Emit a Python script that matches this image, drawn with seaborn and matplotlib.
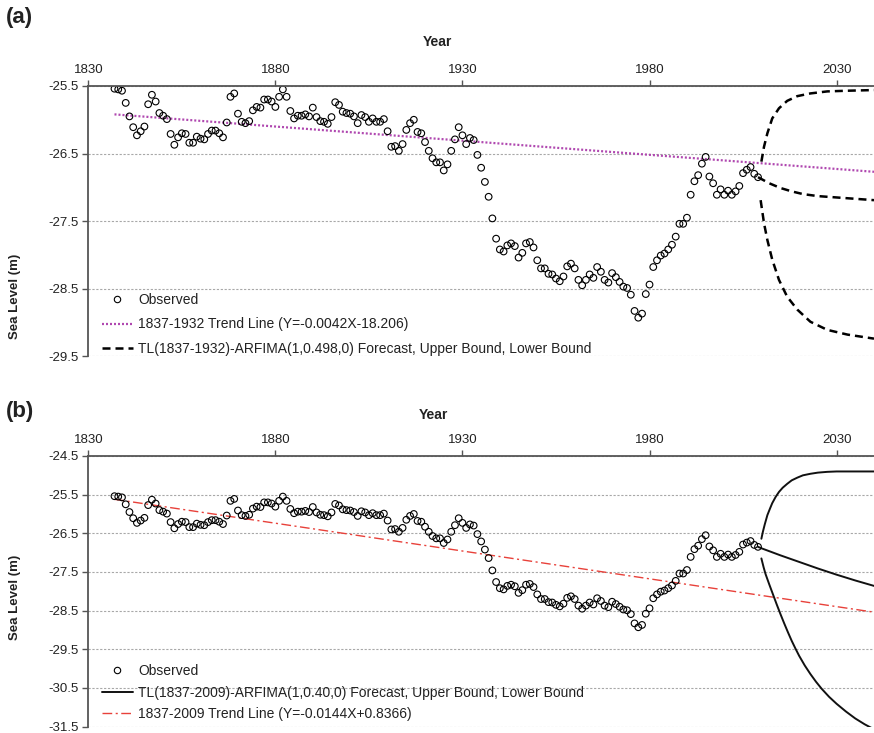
import numpy as np
import pandas as pd
import matplotlib
matplotlib.use("Agg")
import matplotlib.pyplot as plt
from matplotlib.lines import Line2D
import seaborn as sns

# ---------------- data ----------------
years = list(range(1837, 2010))
observed = [
    -25.54, -25.55, -25.57, -25.75, -25.95, -26.11, -26.23, -26.17, -26.10, -25.77,  # 1837-1846
    -25.63, -25.73, -25.90, -25.94, -25.99, -26.21, -26.37, -26.26, -26.20, -26.21,  # 1847-1856
    -26.34, -26.34, -26.25, -26.28, -26.29, -26.21, -26.16, -26.16, -26.20, -26.26,  # 1857-1866
    -26.04, -25.66, -25.61, -25.91, -26.03, -26.05, -26.02, -25.86, -25.81, -25.82,  # 1867-1876
    -25.70, -25.70, -25.73, -25.81, -25.66, -25.55, -25.66, -25.87, -25.98, -25.94,  # 1877-1886
    -25.94, -25.92, -25.95, -25.82, -25.96, -26.02, -26.03, -26.06, -25.96, -25.74,  # 1887-1896
    -25.78, -25.88, -25.90, -25.91, -25.95, -26.05, -25.93, -25.96, -26.03, -25.98,  # 1897-1906
    -26.03, -26.03, -25.99, -26.17, -26.40, -26.39, -26.46, -26.36, -26.15, -26.05,  # 1907-1916
    -26.00, -26.18, -26.20, -26.33, -26.46, -26.57, -26.63, -26.63, -26.75, -26.66,  # 1917-1926
    -26.46, -26.29, -26.11, -26.23, -26.36, -26.27, -26.30, -26.52, -26.71, -26.92,  # 1927-1936
    -27.14, -27.46, -27.76, -27.92, -27.95, -27.86, -27.83, -27.87, -28.04, -27.97,  # 1937-1946
    -27.83, -27.81, -27.89, -28.08, -28.20, -28.20, -28.28, -28.29, -28.35, -28.39,  # 1947-1956
    -28.32, -28.17, -28.13, -28.20, -28.37, -28.45, -28.37, -28.29, -28.34, -28.18,  # 1957-1966
    -28.25, -28.37, -28.41, -28.27, -28.33, -28.40, -28.47, -28.49, -28.59, -28.83,  # 1967-1976
    -28.93, -28.87, -28.58, -28.44, -28.18, -28.08, -28.01, -27.98, -27.92, -27.85,  # 1977-1986
    -27.73, -27.54, -27.54, -27.45, -27.11, -26.91, -26.82, -26.65, -26.55, -26.84,  # 1987-1996
    -26.94, -27.11, -27.03, -27.11, -27.05, -27.11, -27.06, -26.98, -26.79, -26.74,  # 1997-2006
    -26.70, -26.80, -26.85,                                                          # 2007-2009
]

# panel (a): 1837-1932 trend line and TL-ARFIMA(1,0.498,0) forecast
trend_a_years = [1837, 2040]
trend_a_vals = [-25.92, -26.77]
fc_a_years = [2009, 2010, 2012, 2015, 2018, 2021, 2025, 2030, 2035, 2040]
fc_a_vals = [-26.85, -26.88, -26.94, -27.01, -27.06, -27.10, -27.13, -27.15, -27.17, -27.19]
up_a_years = [2009.9, 2010.6, 2011.5, 2012.8, 2014.6, 2016.8, 2019.5, 2023.0, 2027.5, 2032.9, 2040.0]
up_a_vals = [-26.62, -26.40, -26.20, -25.98, -25.83, -25.72, -25.65, -25.61, -25.58, -25.57, -25.56]
lo_a_years = [2009.7, 2010.6, 2011.5, 2012.8, 2014.6, 2016.8, 2019.5, 2023.0, 2027.5, 2032.9, 2040.0]
lo_a_vals = [-27.19, -27.53, -27.78, -28.07, -28.37, -28.62, -28.81, -28.99, -29.11, -29.18, -29.24]

# panel (b): 1837-2009 trend line and TL-ARFIMA(1,0.40,0) forecast
trend_b_years = [1837, 2040]
trend_b_vals = [-25.62, -28.54]
fc_b_years = [2009, 2010, 2015, 2020, 2025, 2030, 2035, 2040]
fc_b_vals = [-26.85, -26.89, -27.07, -27.24, -27.41, -27.57, -27.72, -27.86]
up_b_years = [2009.9, 2010.3, 2010.8, 2011.5, 2012.2, 2012.8, 2013.7, 2014.6, 2015.6,
              2016.8, 2018.0, 2019.5, 2021.0, 2023.0, 2025.0, 2027.5, 2030.0, 2032.9, 2036.0, 2040.0]
up_b_vals = [-26.64, -26.46, -26.27, -26.03, -25.86, -25.72, -25.56, -25.43, -25.32,
             -25.22, -25.13, -25.06, -25.00, -24.96, -24.93, -24.91, -24.90, -24.90, -24.90, -24.90]
lo_b_years = [2009.9, 2010.5, 2011.0, 2012.0, 2013.0, 2014.0, 2015.0, 2016.0, 2017.0, 2018.0,
              2019.0, 2020.0, 2021.5, 2023.0, 2024.5, 2026.0, 2028.0, 2030.0, 2032.5, 2035.0,
              2037.5, 2040.0]
lo_b_vals = [-27.15, -27.38, -27.55, -27.82, -28.08, -28.34, -28.59, -28.83, -29.06, -29.28,
             -29.48, -29.67, -29.92, -30.14, -30.34, -30.52, -30.73, -30.91, -31.11, -31.29,
             -31.44, -31.57]

x_ticks = [1830, 1880, 1930, 1980, 2030]
y_ticks_a = [-25.5, -26.5, -27.5, -28.5, -29.5]
y_ticks_b = [-24.5, -25.5, -26.5, -27.5, -28.5, -29.5, -30.5, -31.5]

label_obs = "Observed"
label_trend_a = "1837-1932 Trend Line (Y=-0.0042X-18.206)"
label_fc_a = "TL(1837-1932)-ARFIMA(1,0.498,0) Forecast, Upper Bound, Lower Bound"
label_fc_b = "TL(1837-2009)-ARFIMA(1,0.40,0) Forecast, Upper Bound, Lower Bound"
label_trend_b = "1837-2009 Trend Line (Y=-0.0144X+0.8366)"

# ---------------- style ----------------
sns.set_theme(style="white")
plt.rcParams["font.family"] = ["Liberation Sans", "DejaVu Sans"]
plt.rcParams["axes.unicode_minus"] = False

W, H = 874, 733
fig = plt.figure(figsize=(W / 100, H / 100), dpi=100)

x0 = 88.3
ax_a = fig.add_axes([x0 / W, 1 - 356.2 / H, (W - x0) / W, 270.2 / H])
ax_b = fig.add_axes([x0 / W, 1 - 726.6 / H, (W - x0) / W, 270.6 / H])

SPINE = "#555555"
TXT = "#222222"
PURPLE = "#b048b0"
RED = "#e8413a"
DOT = (0, (0.9, 0.9))
DASH = (0, (3.2, 2.0))
DASHDOT = (0, (7, 2.5, 1.5, 2.5))

obs_df = pd.DataFrame({"year": years, "level": observed})


def style_axes(ax, yticks):
    ax.set_xlim(1830, 2040)
    ax.set_ylim(yticks[-1], yticks[0])
    ax.xaxis.tick_top()
    ax.set_xticks(x_ticks)
    ax.set_yticks(yticks)
    ax.set_yticklabels([f"{v:.1f}" for v in yticks])
    for s in ["right", "bottom"]:
        ax.spines[s].set_visible(False)
    for s in ["top", "left"]:
        ax.spines[s].set_color(SPINE)
        ax.spines[s].set_linewidth(1.3)
        ax.spines[s].set_zorder(5)
    ax.tick_params(axis="both", direction="out", length=4, width=1.0, color=SPINE,
                   labelsize=9.5, labelcolor=TXT, pad=3)
    ax.tick_params(axis="x", top=True, bottom=False, labeltop=True, labelbottom=False)
    ax.tick_params(axis="y", left=True)
    ax.yaxis.grid(True, linestyle=(0, (2, 1.5)), color="#a8a8a8", linewidth=0.8)
    ax.xaxis.grid(False)
    ax.set_axisbelow(True)
    ax.set_xlabel("")
    ax.set_ylabel("")


def draw_observed(ax):
    sns.scatterplot(data=obs_df, x="year", y="level", ax=ax, marker="o", s=23,
                    facecolors="none", edgecolor="black", linewidth=0.8, zorder=4,
                    legend=False)


def line(ax, xs, ys, **kw):
    sns.lineplot(x=xs, y=ys, ax=ax, sort=False, estimator=None, legend=False, **kw)


# ---------------- panel (a) ----------------
draw_observed(ax_a)
line(ax_a, trend_a_years, trend_a_vals, color=PURPLE, linewidth=1.6, linestyle=DOT,
     dash_capstyle="butt", zorder=3)
for xs, ys in [(fc_a_years, fc_a_vals), (up_a_years, up_a_vals), (lo_a_years, lo_a_vals)]:
    line(ax_a, xs, ys, color="black", linewidth=1.8, linestyle=DASH, zorder=3)
style_axes(ax_a, y_ticks_a)

h_obs = Line2D([], [], marker="o", linestyle="none", markerfacecolor="none",
               markeredgecolor="black", markersize=4.6, markeredgewidth=0.8)
h_trend_a = Line2D([], [], color=PURPLE, linewidth=1.6, linestyle=DOT, dash_capstyle="butt")
h_fc_a = Line2D([], [], color="black", linewidth=1.8, linestyle=DASH)
ax_a.legend([h_obs, h_trend_a, h_fc_a], [label_obs, label_trend_a, label_fc_a],
            loc="lower left", bbox_to_anchor=(0.0174, 0.0), frameon=False,
            fontsize=10, labelcolor=TXT, handlelength=2.2, handletextpad=0.4,
            labelspacing=0.78, borderpad=0.0, borderaxespad=0.0)

# ---------------- panel (b) ----------------
draw_observed(ax_b)
line(ax_b, trend_b_years, trend_b_vals, color=RED, linewidth=1.0, linestyle=DASHDOT, zorder=3)
for xs, ys in [(fc_b_years, fc_b_vals), (up_b_years, up_b_vals), (lo_b_years, lo_b_vals)]:
    line(ax_b, xs, ys, color="#111111", linewidth=1.4, linestyle="-", zorder=3)
style_axes(ax_b, y_ticks_b)

h_fc_b = Line2D([], [], color="#111111", linewidth=1.4, linestyle="-")
h_trend_b = Line2D([], [], color=RED, linewidth=1.0, linestyle=DASHDOT)
ax_b.legend([h_obs, h_fc_b, h_trend_b], [label_obs, label_fc_b, label_trend_b],
            loc="lower left", bbox_to_anchor=(0.0174, 0.02), frameon=False,
            fontsize=10, labelcolor=TXT, handlelength=2.2, handletextpad=0.4,
            labelspacing=0.55, borderpad=0.0, borderaxespad=0.0)

# ---------------- texts ----------------
fig.text(6 / W, 1 - 18 / H, "(a)", fontsize=16, fontweight="bold", color=TXT,
         ha="left", va="center")
fig.text(6 / W, 1 - 412 / H, "(b)", fontsize=16, fontweight="bold", color=TXT,
         ha="left", va="center")
fig.text(437 / W, 1 - 42 / H, "Year", fontsize=10, fontweight="bold", color=TXT,
         ha="center", va="center")
fig.text(433 / W, 1 - 415 / H, "Year", fontsize=10, fontweight="bold", color=TXT,
         ha="center", va="center")
fig.text(15 / W, 1 - 296 / H, "Sea Level (m)", fontsize=9.5, fontweight="bold", color=TXT,
         rotation=90, ha="center", va="center")
fig.text(15 / W, 1 - 597 / H, "Sea Level (m)", fontsize=9.5, fontweight="bold", color=TXT,
         rotation=90, ha="center", va="center")

fig.savefig("out.png", dpi=100, facecolor="white")
